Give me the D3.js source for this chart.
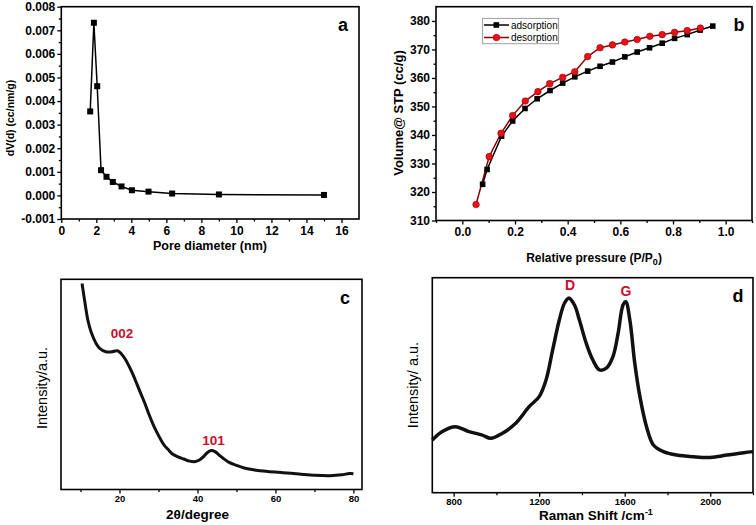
<!DOCTYPE html>
<html><head><meta charset="utf-8">
<script src="https://cdn.jsdelivr.net/npm/d3@7"></script>
<style>
body{margin:0;background:#fff;}
svg{display:block;font-family:"Liberation Sans",Arial,sans-serif;}
</style></head>
<body>
<svg id="c" width="756" height="525"></svg>
<script>
// ---------- Panel a : pore size distribution ----------
const poreDiameter = [1.65, 1.86, 2.05, 2.27, 2.58, 2.94, 3.44, 4.03, 4.98, 6.33, 9.0, 15.0];
const poreVolume   = [0.00356, 0.00732, 0.00463, 0.00107, 0.00079, 0.00057, 0.00038, 0.00022, 0.00016, 0.00008, 0.00004, 0.00002];
const aYTicks = [-0.001, 0, 0.001, 0.002, 0.003, 0.004, 0.005, 0.006, 0.007, 0.008];
const aXTicks = [0, 2, 4, 6, 8, 10, 12, 14, 16];

// ---------- Panel b : N2 isotherm ----------
const adsP = [0.077, 0.094, 0.149, 0.191, 0.238, 0.284, 0.333, 0.381, 0.427, 0.476, 0.523, 0.570, 0.617, 0.664, 0.711, 0.759, 0.806, 0.854, 0.903, 0.951];
const adsV = [322.7, 327.9, 339.6, 344.9, 349.3, 352.7, 355.6, 358.2, 360.4, 362.4, 364.1, 365.6, 367.4, 369.1, 370.6, 372.2, 373.9, 375.2, 376.8, 378.2];
const desP = [0.052, 0.102, 0.147, 0.191, 0.239, 0.287, 0.332, 0.381, 0.427, 0.476, 0.523, 0.570, 0.617, 0.664, 0.712, 0.759, 0.806, 0.854, 0.904];
const desV = [315.6, 332.4, 340.6, 346.8, 351.9, 355.2, 358.0, 360.2, 362.2, 367.5, 370.6, 371.6, 372.6, 373.5, 374.6, 375.2, 376.0, 376.6, 377.5];
const bXTicks = [0, 0.2, 0.4, 0.6, 0.8, 1.0];
const bYTicks = [310, 320, 330, 340, 350, 360, 370, 380];

// ---------- Panel c : XRD ----------
const twoTheta = [10.4, 10.8, 11.3, 11.9, 12.7, 14.0, 15.0, 16.5, 18.0, 19.5, 20.5, 21.5, 22.5, 23.5, 24.5, 25.5, 26.5, 27.5, 28.5, 29.5, 30.5, 31.5, 32.5, 33.5, 35.0, 36.5, 38.0, 39.5, 40.5, 41.5, 42.5, 43.5, 44.5, 45.5, 46.5, 48.0, 50.0, 52.0, 55.0, 58.0, 62.0, 66.0, 70.0, 74.0, 77.0, 79.0, 80.0];
const xrdIntensity = [98, 93, 87, 80.5, 75, 69.5, 67, 65.5, 65.5, 66, 64.5, 62, 58.5, 54.5, 50, 45.5, 41, 36, 31.5, 27.5, 24, 21, 19, 17, 15.5, 14.5, 13.5, 13.3, 14, 15.5, 17.5, 18.5, 18, 16.5, 15, 13, 11.5, 10.2, 9.2, 8.6, 8, 7.4, 6.8, 6.6, 7, 7.6, 7.5];
const cXTicks = [20, 40, 60, 80];
const cXMinor = [10, 30, 50, 70];

// ---------- Panel d : Raman ----------
const ramanShift = [700, 745, 808, 871, 934, 973, 1028, 1090, 1153, 1200, 1232, 1263, 1294, 1318, 1338, 1365, 1388, 1420, 1451, 1482, 1514, 1545, 1569, 1592, 1605, 1624, 1647, 1671, 1702, 1734, 1781, 1843, 1922, 2000, 2079, 2157, 2200];
const ramanIntensity = [24.5, 28.4, 30.7, 28.4, 26.8, 25.3, 27.6, 32.3, 40, 44.7, 52.4, 66.4, 80.3, 88.1, 90.5, 87.3, 80.3, 69.5, 61.7, 57.1, 57.9, 63.3, 74.1, 87.3, 88.8, 80.3, 60.2, 44.7, 30.7, 22.2, 19.1, 17.5, 16.7, 16.4, 17.5, 18.6, 19.1];
const dXTicks = [800, 1200, 1600, 2000];
const dXMinor = [1000, 1400, 1800, 2200];

const svg = d3.select("#c");
const FONT = '"Liberation Sans",Arial,sans-serif';

function frame(x0, x1, y0, y1) {
  svg.append("rect").attr("x", x0).attr("y", y0).attr("width", x1 - x0).attr("height", y1 - y0)
    .attr("fill", "none").attr("stroke", "#000").attr("stroke-width", 1.6);
}
function styleAxis(g, size) {
  g.select(".domain").remove();
  g.selectAll("line").attr("stroke", "#000").attr("stroke-width", 1.3);
  g.selectAll("text").attr("font-family", FONT).attr("font-weight", "bold").attr("font-size", size).attr("fill", "#000");
}
function bottomAxis(x, yPix, major, minor, fmt, size, pad) {
  const g = svg.append("g").attr("transform", `translate(0,${yPix})`)
    .call(d3.axisBottom(x).tickValues(major).tickFormat(fmt).tickSize(4).tickPadding(pad).tickSizeOuter(0));
  styleAxis(g, size);
  if (minor) {
    const m = svg.append("g").attr("transform", `translate(0,${yPix})`)
      .call(d3.axisBottom(x).tickValues(minor).tickFormat("").tickSize(2.5).tickSizeOuter(0));
    styleAxis(m, size);
  }
}
function leftAxis(y, xPix, major, minor, fmt, size) {
  const g = svg.append("g").attr("transform", `translate(${xPix},0)`)
    .call(d3.axisLeft(y).tickValues(major).tickFormat(fmt).tickSize(4).tickPadding(2).tickSizeOuter(0));
  styleAxis(g, size);
  if (minor) {
    const m = svg.append("g").attr("transform", `translate(${xPix},0)`)
      .call(d3.axisLeft(y).tickValues(minor).tickFormat("").tickSize(2.5).tickSizeOuter(0));
    styleAxis(m, size);
  }
}
function txt(x, y, s, size, opts = {}) {
  const t = svg.append("text").attr("x", x).attr("y", y).attr("font-family", FONT)
    .attr("font-size", size).attr("font-weight", opts.weight || "bold")
    .attr("fill", opts.fill || "#000").attr("text-anchor", opts.anchor || "middle");
  if (opts.rotate) t.attr("transform", `rotate(-90,${x},${y})`);
  t.text(s);
  return t;
}

// ===== Panel a =====
{
  const L = 61.3, R = 359, T = 6.7, B = 219;
  const x = d3.scaleLinear().domain([0, 17]).range([L, R]);
  const y = d3.scaleLinear().domain([-0.001, 0.008]).range([B, T]);
  const minorY = d3.range(-0.0005, 0.008, 0.001);
  leftAxis(y, L, aYTicks, minorY, d => d.toFixed(3), 12);
  bottomAxis(x, B, aXTicks, d3.range(1, 17, 2), d3.format("d"), 12, 3);
  frame(L, R, T, B);
  const pts = poreDiameter.map((d, i) => [x(d), y(poreVolume[i])]);
  svg.append("path").attr("d", d3.line()(pts)).attr("fill", "none").attr("stroke", "#000").attr("stroke-width", 1.5);
  svg.append("g").selectAll("rect").data(pts).join("rect")
    .attr("x", d => d[0] - 3).attr("y", d => d[1] - 3).attr("width", 6).attr("height", 6).attr("fill", "#000");
  txt(343, 31, "a", 18);
  txt(210, 250, "Pore diameter (nm)", 12.5);
  txt(13.5, 118, "dV(d) (cc/nm/g)", 10.5, { rotate: true });
}

// ===== Panel b =====
{
  const L = 436, R = 752, T = 6.7, B = 220.5;
  const x = d3.scaleLinear().domain([-0.1, 1.1]).range([L, R]);
  const y = d3.scaleLinear().domain([310, 385]).range([B, T]);
  leftAxis(y, L, bYTicks, d3.range(315, 385, 10), d3.format("d"), 12);
  bottomAxis(x, B, bXTicks, [-0.1, 0.1, 0.3, 0.5, 0.7, 0.9, 1.1], d3.format(".1f"), 12, 3);
  frame(L, R, T, B);
  const ads = adsP.map((d, i) => [x(d), y(adsV[i])]);
  const des = desP.map((d, i) => [x(d), y(desV[i])]);
  svg.append("path").attr("d", d3.line()(ads)).attr("fill", "none").attr("stroke", "#000").attr("stroke-width", 1.5);
  svg.append("path").attr("d", d3.line()(des)).attr("fill", "none").attr("stroke", "#8b0000").attr("stroke-width", 1.5);
  svg.append("g").selectAll("rect").data(ads).join("rect")
    .attr("x", d => d[0] - 2.8).attr("y", d => d[1] - 2.8).attr("width", 5.6).attr("height", 5.6).attr("fill", "#000");
  svg.append("g").selectAll("circle").data(des).join("circle")
    .attr("cx", d => d[0]).attr("cy", d => d[1]).attr("r", 3.3).attr("fill", "#e8101a").attr("stroke", "#a00000").attr("stroke-width", 0.6);
  // legend
  svg.append("rect").attr("x", 482.7).attr("y", 18.3).attr("width", 76).attr("height", 25.5)
    .attr("fill", "none").attr("stroke", "#777").attr("stroke-width", 0.7);
  svg.append("line").attr("x1", 484).attr("x2", 509).attr("y1", 25).attr("y2", 25).attr("stroke", "#000").attr("stroke-width", 1.5);
  svg.append("rect").attr("x", 493.5).attr("y", 22.2).attr("width", 5.6).attr("height", 5.6).attr("fill", "#000");
  svg.append("line").attr("x1", 484).attr("x2", 509).attr("y1", 37.5).attr("y2", 37.5).attr("stroke", "#8b0000").attr("stroke-width", 1.5);
  svg.append("circle").attr("cx", 496.5).attr("cy", 37.5).attr("r", 3.3).attr("fill", "#e8101a").attr("stroke", "#a00000").attr("stroke-width", 0.6);
  txt(511, 28.5, "adsorption", 10, { weight: "normal", anchor: "start" });
  txt(511, 41, "desorption", 10, { weight: "normal", anchor: "start" });
  txt(739, 31, "b", 18);
  const xt = txt(594, 262, "", 12);
  xt.append("tspan").text("Relative pressure (P/P");
  xt.append("tspan").attr("font-size", 9).attr("dy", 3).text("0");
  xt.append("tspan").attr("dy", -3).text(")");
  txt(403, 113, "Volume@ STP (cc/g)", 13, { rotate: true });
}

// ===== Panel c =====
{
  const L = 61, R = 362, T = 279.3, B = 489.5;
  const x = d3.scaleLinear().domain([5, 82.2]).range([L, R]);
  const y = d3.scaleLinear().domain([0, 100]).range([B, T]);
  bottomAxis(x, B, cXTicks, cXMinor, d3.format("d"), 9.5, 2);
  frame(L, R, T, B);
  const pts = twoTheta.map((d, i) => [x(d), y(xrdIntensity[i])]);
  svg.append("path").attr("d", d3.line().curve(d3.curveCatmullRom)(pts)).attr("fill", "none")
    .attr("stroke", "#111").attr("stroke-width", 3).attr("stroke-linejoin", "round");
  txt(345, 304, "c", 18);
  txt(122, 338, "002", 13.5, { fill: "#c8102e" });
  txt(213.5, 445, "101", 13.5, { fill: "#c8102e" });
  txt(197.5, 519, "2θ/degree", 13.5);
  txt(46.5, 388, "Intensity/a.u.", 14.5, { weight: "normal", rotate: true });
}

// ===== Panel d =====
{
  const L = 432.3, R = 753, T = 277.7, B = 492.7;
  const x = d3.scaleLinear().domain([700, 2200]).range([L, R]);
  const y = d3.scaleLinear().domain([0, 100]).range([B, T]);
  bottomAxis(x, B, dXTicks, dXMinor, d3.format("d"), 9.5, 2);
  frame(L, R, T, B);
  const pts = ramanShift.map((d, i) => [x(d), y(ramanIntensity[i])]);
  svg.append("path").attr("d", d3.line().curve(d3.curveCatmullRom)(pts)).attr("fill", "none")
    .attr("stroke", "#111").attr("stroke-width", 3.5).attr("stroke-linejoin", "round");
  txt(738, 302, "d", 18);
  txt(570, 290, "D", 14, { fill: "#c8102e" });
  txt(626, 296, "G", 14, { fill: "#c8102e" });
  const xt = txt(596, 520, "", 13.5);
  xt.append("tspan").text("Raman Shift /cm");
  xt.append("tspan").attr("font-size", 9).attr("dy", -5).text("-1");
  txt(418, 385, "Intensity/ a.u.", 14.5, { weight: "normal", rotate: true });
}
</script>
</body></html>
